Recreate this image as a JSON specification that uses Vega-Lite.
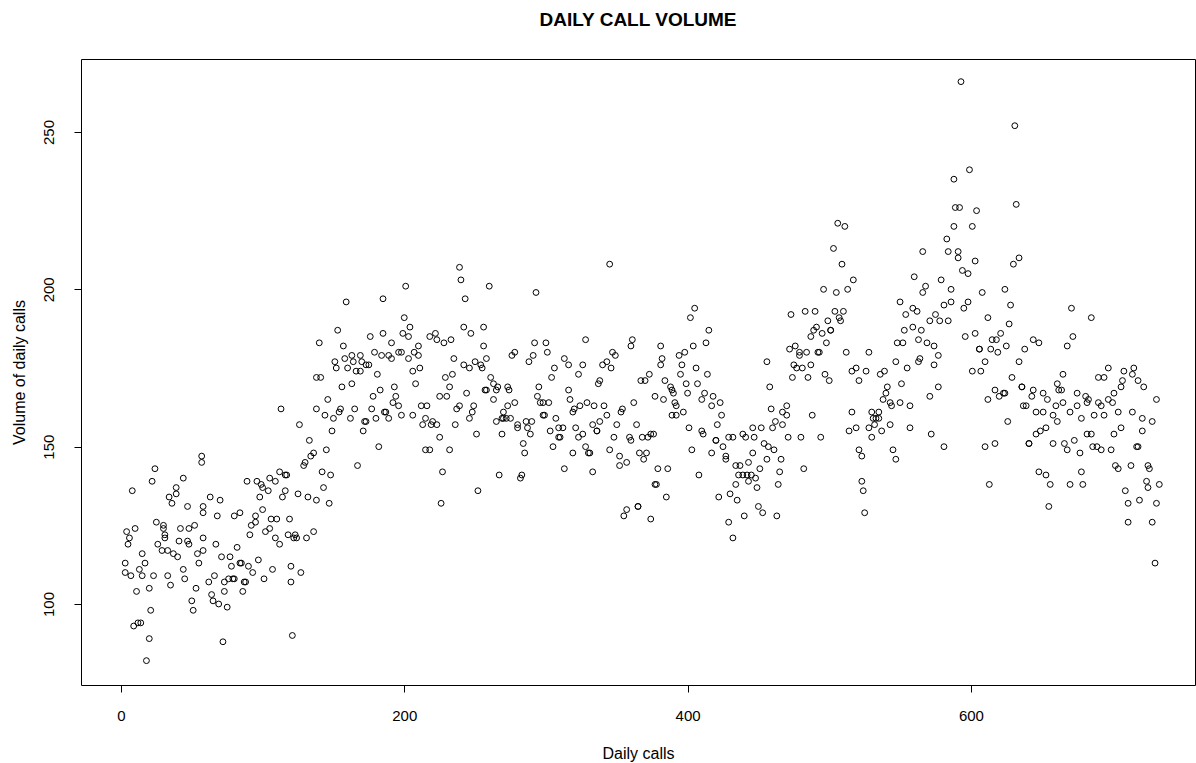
{
"$schema": "https://vega.github.io/schema/vega-lite/v6.json",
"width": 1114, "height": 626,
"autosize": {"type": "none"},
"padding": {"left": 81, "top": 59, "right": 1, "bottom": 78},
"background": "white",
"title": {"text": "DAILY CALL VOLUME", "font": "Liberation Sans", "fontSize": 19, "fontWeight": "bold", "color": "black", "anchor": "middle", "offset": 29},
"config": {"view": {"stroke": "black", "strokeWidth": 1}},
"data": {"values": [
{"d":57,"v":147},{"d":57,"v":145},{"d":24,"v":143},{"d":22,"v":139},{"d":8,"v":136},{"d":44,"v":140},{"d":39,"v":137},{"d":39,"v":135},{"d":34,"v":134},{"d":36,"v":132},{"d":47,"v":131},{"d":58,"v":131},{"d":58,"v":129},{"d":25,"v":126},{"d":30,"v":125},{"d":30,"v":124},{"d":31,"v":122},{"d":31,"v":121},{"d":42,"v":124},{"d":48,"v":124},{"d":52,"v":125},{"d":4,"v":123},{"d":10,"v":124},{"d":6,"v":121},{"d":5,"v":119},{"d":26,"v":119},{"d":41,"v":120},{"d":47,"v":120},{"d":48,"v":119},{"d":58,"v":121},{"d":29,"v":117},{"d":33,"v":117},{"d":37,"v":116},{"d":40,"v":115},{"d":15,"v":116},{"d":17,"v":113},{"d":3,"v":113},{"d":54,"v":116},{"d":55,"v":113},{"d":58,"v":117},{"d":3,"v":110},{"d":7,"v":109},{"d":13,"v":111},{"d":15,"v":109},{"d":23,"v":109},{"d":33,"v":109},{"d":35,"v":106},{"d":44,"v":111},{"d":45,"v":108},{"d":11,"v":104},{"d":20,"v":105},{"d":53,"v":105},{"d":50,"v":101},{"d":51,"v":98},{"d":21,"v":98},{"d":9,"v":93},{"d":12,"v":94},{"d":14,"v":94},{"d":20,"v":89},{"d":18,"v":82},
{"d":113,"v":162},{"d":112,"v":142},{"d":116,"v":141},{"d":117,"v":141},{"d":89,"v":139},{"d":96,"v":139},{"d":99,"v":138},{"d":100,"v":137},{"d":105,"v":140},{"d":109,"v":139},{"d":104,"v":136},{"d":98,"v":134},{"d":116,"v":136},{"d":114,"v":134},{"d":63,"v":134},{"d":70,"v":133},{"d":68,"v":128},{"d":80,"v":128},{"d":84,"v":129},{"d":100,"v":130},{"d":95,"v":128},{"d":95,"v":126},{"d":92,"v":125},{"d":91,"v":122},{"d":106,"v":127},{"d":110,"v":127},{"d":119,"v":127},{"d":105,"v":124},{"d":102,"v":123},{"d":109,"v":121},{"d":112,"v":119},{"d":118,"v":122},{"d":122,"v":121},{"d":67,"v":119},{"d":71,"v":115},{"d":77,"v":115},{"d":82,"v":118},{"d":78,"v":112},{"d":84,"v":113},{"d":85,"v":113},{"d":90,"v":112},{"d":97,"v":114},{"d":93,"v":110},{"d":107,"v":111},{"d":101,"v":108},{"d":120,"v":112},{"d":120,"v":107},{"d":66,"v":109},{"d":62,"v":107},{"d":73,"v":107},{"d":76,"v":108},{"d":79,"v":108},{"d":80,"v":108},{"d":88,"v":107},{"d":87,"v":107},{"d":64,"v":103},{"d":65,"v":101},{"d":69,"v":100},{"d":75,"v":99},{"d":73,"v":104},{"d":86,"v":104},{"d":72,"v":88},{"d":121,"v":90},
{"d":159,"v":196},{"d":185,"v":197},{"d":153,"v":187},{"d":140,"v":183},{"d":176,"v":185},{"d":185,"v":186},{"d":157,"v":182},{"d":151,"v":177},{"d":152,"v":175},{"d":158,"v":178},{"d":163,"v":179},{"d":164,"v":177},{"d":169,"v":179},{"d":170,"v":177},{"d":160,"v":175},{"d":166,"v":174},{"d":169,"v":174},{"d":175,"v":176},{"d":173,"v":176},{"d":179,"v":180},{"d":184,"v":179},{"d":181,"v":173},{"d":138,"v":172},{"d":141,"v":172},{"d":163,"v":170},{"d":156,"v":169},{"d":183,"v":168},{"d":178,"v":166},{"d":146,"v":165},{"d":138,"v":162},{"d":144,"v":160},{"d":150,"v":159},{"d":155,"v":162},{"d":154,"v":161},{"d":162,"v":159},{"d":165,"v":162},{"d":177,"v":162},{"d":180,"v":159},{"d":172,"v":158},{"d":173,"v":158},{"d":171,"v":155},{"d":186,"v":161},{"d":126,"v":157},{"d":149,"v":155},{"d":182,"v":150},{"d":133,"v":152},{"d":136,"v":148},{"d":134,"v":147},{"d":130,"v":145},{"d":129,"v":144},{"d":145,"v":149},{"d":167,"v":144},{"d":142,"v":142},{"d":148,"v":141},{"d":143,"v":137},{"d":125,"v":135},{"d":132,"v":134},{"d":138,"v":133},{"d":147,"v":132},{"d":123,"v":122},{"d":124,"v":121},{"d":131,"v":121},{"d":136,"v":123},{"d":127,"v":110},
{"d":239,"v":207},{"d":240,"v":203},{"d":243,"v":197},{"d":201,"v":201},{"d":200,"v":191},{"d":204,"v":188},{"d":199,"v":186},{"d":203,"v":185},{"d":218,"v":185},{"d":222,"v":186},{"d":223,"v":184},{"d":228,"v":183},{"d":233,"v":184},{"d":242,"v":188},{"d":247,"v":186},{"d":191,"v":183},{"d":189,"v":179},{"d":191,"v":178},{"d":196,"v":180},{"d":198,"v":180},{"d":203,"v":178},{"d":207,"v":180},{"d":210,"v":179},{"d":210,"v":182},{"d":235,"v":178},{"d":242,"v":176},{"d":246,"v":175},{"d":250,"v":177},{"d":206,"v":174},{"d":211,"v":175},{"d":229,"v":172},{"d":234,"v":173},{"d":208,"v":170},{"d":232,"v":169},{"d":225,"v":166},{"d":230,"v":166},{"d":244,"v":167},{"d":193,"v":169},{"d":194,"v":166},{"d":192,"v":164},{"d":196,"v":163},{"d":187,"v":161},{"d":189,"v":159},{"d":212,"v":163},{"d":216,"v":163},{"d":198,"v":160},{"d":206,"v":160},{"d":239,"v":163},{"d":237,"v":162},{"d":249,"v":163},{"d":248,"v":161},{"d":246,"v":159},{"d":215,"v":159},{"d":213,"v":157},{"d":220,"v":158},{"d":219,"v":157},{"d":223,"v":157},{"d":236,"v":157},{"d":225,"v":153},{"d":215,"v":149},{"d":218,"v":149},{"d":232,"v":149},{"d":227,"v":142},{"d":226,"v":132},
{"d":260,"v":201},{"d":293,"v":199},{"d":256,"v":188},{"d":256,"v":182},{"d":258,"v":178},{"d":254,"v":176},{"d":255,"v":175},{"d":278,"v":180},{"d":276,"v":179},{"d":288,"v":177},{"d":291,"v":179},{"d":292,"v":183},{"d":300,"v":183},{"d":301,"v":180},{"d":306,"v":175},{"d":304,"v":172},{"d":313,"v":178},{"d":261,"v":172},{"d":263,"v":170},{"d":266,"v":169},{"d":257,"v":168},{"d":258,"v":168},{"d":265,"v":168},{"d":263,"v":165},{"d":273,"v":169},{"d":274,"v":168},{"d":295,"v":169},{"d":294,"v":166},{"d":296,"v":164},{"d":298,"v":164},{"d":302,"v":164},{"d":278,"v":164},{"d":273,"v":163},{"d":270,"v":161},{"d":270,"v":159},{"d":265,"v":158},{"d":269,"v":159},{"d":272,"v":159},{"d":275,"v":159},{"d":280,"v":157},{"d":280,"v":156},{"d":286,"v":158},{"d":290,"v":158},{"d":287,"v":156},{"d":289,"v":154},{"d":299,"v":160},{"d":298,"v":160},{"d":307,"v":159},{"d":309,"v":156},{"d":303,"v":155},{"d":309,"v":153},{"d":310,"v":153},{"d":312,"v":156},{"d":251,"v":154},{"d":269,"v":154},{"d":284,"v":151},{"d":285,"v":148},{"d":305,"v":150},{"d":313,"v":143},{"d":267,"v":141},{"d":283,"v":141},{"d":282,"v":140},{"d":252,"v":136},
{"d":345,"v":208},{"d":328,"v":184},{"d":361,"v":184},{"d":360,"v":182},{"d":347,"v":180},{"d":349,"v":179},{"d":316,"v":176},{"d":326,"v":176},{"d":323,"v":173},{"d":343,"v":177},{"d":340,"v":176},{"d":346,"v":175},{"d":338,"v":171},{"d":337,"v":170},{"d":367,"v":171},{"d":370,"v":171},{"d":373,"v":173},{"d":316,"v":168},{"d":317,"v":165},{"d":319,"v":161},{"d":320,"v":162},{"d":324,"v":163},{"d":329,"v":164},{"d":334,"v":163},{"d":341,"v":163},{"d":354,"v":162},{"d":353,"v":161},{"d":362,"v":164},{"d":377,"v":166},{"d":343,"v":160},{"d":338,"v":158},{"d":333,"v":157},{"d":336,"v":155},{"d":336,"v":155},{"d":321,"v":156},{"d":323,"v":153},{"d":326,"v":154},{"d":350,"v":157},{"d":348,"v":153},{"d":364,"v":157},{"d":359,"v":153},{"d":360,"v":152},{"d":368,"v":153},{"d":372,"v":153},{"d":374,"v":154},{"d":328,"v":150},{"d":330,"v":148},{"d":331,"v":148},{"d":319,"v":148},{"d":345,"v":149},{"d":352,"v":147},{"d":352,"v":144},{"d":357,"v":145},{"d":366,"v":148},{"d":371,"v":148},{"d":369,"v":146},{"d":333,"v":142},{"d":357,"v":130},{"d":355,"v":128},{"d":365,"v":131},{"d":365,"v":131},{"d":374,"v":127},{"d":377,"v":138},
{"d":405,"v":194},{"d":402,"v":191},{"d":415,"v":187},{"d":413,"v":183},{"d":381,"v":182},{"d":382,"v":178},{"d":381,"v":176},{"d":394,"v":179},{"d":398,"v":180},{"d":404,"v":182},{"d":396,"v":176},{"d":395,"v":173},{"d":406,"v":175},{"d":414,"v":173},{"d":384,"v":171},{"d":388,"v":169},{"d":390,"v":167},{"d":389,"v":168},{"d":399,"v":170},{"d":407,"v":170},{"d":400,"v":167},{"d":412,"v":167},{"d":410,"v":165},{"d":418,"v":166},{"d":417,"v":163},{"d":423,"v":164},{"d":383,"v":165},{"d":391,"v":164},{"d":392,"v":163},{"d":389,"v":160},{"d":392,"v":160},{"d":397,"v":161},{"d":424,"v":160},{"d":421,"v":157},{"d":401,"v":156},{"d":410,"v":155},{"d":411,"v":154},{"d":376,"v":154},{"d":420,"v":152},{"d":420,"v":152},{"d":429,"v":153},{"d":432,"v":153},{"d":439,"v":154},{"d":425,"v":150},{"d":417,"v":148},{"d":403,"v":149},{"d":427,"v":147},{"d":427,"v":146},{"d":434,"v":144},{"d":437,"v":144},{"d":436,"v":141},{"d":439,"v":141},{"d":434,"v":138},{"d":430,"v":135},{"d":435,"v":133},{"d":379,"v":143},{"d":386,"v":143},{"d":378,"v":138},{"d":385,"v":134},{"d":408,"v":141},{"d":422,"v":134},{"d":440,"v":128},{"d":429,"v":126},{"d":432,"v":121},
{"d":503,"v":213},{"d":496,"v":200},{"d":473,"v":192},{"d":483,"v":193},{"d":490,"v":193},{"d":499,"v":190},{"d":501,"v":187},{"d":501,"v":187},{"d":495,"v":186},{"d":491,"v":188},{"d":489,"v":187},{"d":487,"v":185},{"d":498,"v":183},{"d":472,"v":181},{"d":476,"v":182},{"d":479,"v":180},{"d":479,"v":179},{"d":484,"v":180},{"d":492,"v":180},{"d":493,"v":180},{"d":475,"v":176},{"d":477,"v":175},{"d":481,"v":175},{"d":487,"v":176},{"d":474,"v":172},{"d":485,"v":172},{"d":497,"v":173},{"d":500,"v":171},{"d":456,"v":177},{"d":458,"v":169},{"d":459,"v":162},{"d":467,"v":161},{"d":470,"v":163},{"d":470,"v":160},{"d":488,"v":160},{"d":462,"v":158},{"d":467,"v":157},{"d":460,"v":156},{"d":446,"v":156},{"d":452,"v":156},{"d":441,"v":153},{"d":447,"v":153},{"d":471,"v":153},{"d":480,"v":153},{"d":494,"v":153},{"d":454,"v":151},{"d":457,"v":150},{"d":461,"v":149},{"d":446,"v":148},{"d":456,"v":146},{"d":466,"v":146},{"d":443,"v":145},{"d":451,"v":143},{"d":465,"v":142},{"d":482,"v":143},{"d":442,"v":141},{"d":445,"v":141},{"d":448,"v":140},{"d":443,"v":139},{"d":449,"v":137},{"d":464,"v":138},{"d":450,"v":131},{"d":453,"v":129},{"d":463,"v":128},
{"d":506,"v":221},{"d":511,"v":220},{"d":509,"v":208},{"d":517,"v":203},{"d":513,"v":200},{"d":505,"v":199},{"d":504,"v":193},{"d":510,"v":193},{"d":507,"v":191},{"d":508,"v":190},{"d":566,"v":212},{"d":560,"v":204},{"d":550,"v":196},{"d":554,"v":192},{"d":559,"v":194},{"d":562,"v":193},{"d":566,"v":199},{"d":553,"v":187},{"d":559,"v":188},{"d":565,"v":187},{"d":563,"v":184},{"d":548,"v":183},{"d":552,"v":183},{"d":547,"v":177},{"d":555,"v":175},{"d":564,"v":178},{"d":563,"v":177},{"d":512,"v":180},{"d":528,"v":180},{"d":519,"v":175},{"d":516,"v":174},{"d":521,"v":171},{"d":526,"v":174},{"d":536,"v":173},{"d":539,"v":174},{"d":551,"v":170},{"d":541,"v":169},{"d":540,"v":167},{"d":538,"v":165},{"d":543,"v":164},{"d":544,"v":163},{"d":550,"v":164},{"d":557,"v":163},{"d":516,"v":161},{"d":530,"v":161},{"d":535,"v":161},{"d":531,"v":159},{"d":533,"v":159},{"d":535,"v":159},{"d":532,"v":157},{"d":514,"v":155},{"d":519,"v":156},{"d":528,"v":156},{"d":530,"v":153},{"d":537,"v":155},{"d":543,"v":157},{"d":557,"v":156},{"d":521,"v":149},{"d":523,"v":147},{"d":545,"v":149},{"d":547,"v":146},{"d":523,"v":139},{"d":524,"v":136},{"d":525,"v":129},
{"d":593,"v":266},{"d":599,"v":238},{"d":588,"v":235},{"d":589,"v":226},{"d":592,"v":226},{"d":604,"v":225},{"d":588,"v":220},{"d":601,"v":220},{"d":583,"v":216},{"d":584,"v":212},{"d":591,"v":212},{"d":591,"v":210},{"d":603,"v":209},{"d":594,"v":206},{"d":598,"v":205},{"d":579,"v":203},{"d":568,"v":201},{"d":586,"v":200},{"d":608,"v":199},{"d":624,"v":200},{"d":581,"v":195},{"d":586,"v":196},{"d":595,"v":194},{"d":598,"v":196},{"d":628,"v":195},{"d":575,"v":192},{"d":571,"v":190},{"d":578,"v":190},{"d":584,"v":190},{"d":612,"v":191},{"d":627,"v":189},{"d":596,"v":185},{"d":603,"v":186},{"d":615,"v":184},{"d":618,"v":184},{"d":621,"v":186},{"d":625,"v":182},{"d":619,"v":180},{"d":606,"v":181},{"d":606,"v":181},{"d":614,"v":181},{"d":569,"v":183},{"d":574,"v":182},{"d":577,"v":179},{"d":574,"v":176},{"d":610,"v":177},{"d":601,"v":174},{"d":607,"v":174},{"d":629,"v":172},{"d":577,"v":169},{"d":571,"v":166},{"d":617,"v":168},{"d":620,"v":166},{"d":623,"v":167},{"d":624,"v":167},{"d":612,"v":165},{"d":626,"v":158},{"d":572,"v":154},{"d":581,"v":150},{"d":610,"v":150},{"d":617,"v":151},{"d":613,"v":138},
{"d":631,"v":252},{"d":632,"v":227},{"d":630,"v":208},{"d":634,"v":210},{"d":671,"v":194},{"d":685,"v":191},{"d":644,"v":184},{"d":648,"v":183},{"d":638,"v":181},{"d":634,"v":177},{"d":672,"v":185},{"d":668,"v":182},{"d":665,"v":173},{"d":661,"v":170},{"d":662,"v":168},{"d":664,"v":168},{"d":690,"v":172},{"d":694,"v":172},{"d":636,"v":169},{"d":636,"v":169},{"d":644,"v":168},{"d":643,"v":166},{"d":651,"v":167},{"d":654,"v":165},{"d":660,"v":163},{"d":665,"v":164},{"d":675,"v":167},{"d":681,"v":166},{"d":683,"v":165},{"d":682,"v":164},{"d":690,"v":164},{"d":692,"v":163},{"d":694,"v":160},{"d":637,"v":163},{"d":639,"v":163},{"d":646,"v":161},{"d":651,"v":161},{"d":670,"v":161},{"d":675,"v":163},{"d":658,"v":160},{"d":661,"v":158},{"d":678,"v":159},{"d":687,"v":160},{"d":646,"v":154},{"d":649,"v":155},{"d":653,"v":156},{"d":641,"v":151},{"d":641,"v":151},{"d":658,"v":151},{"d":666,"v":151},{"d":668,"v":149},{"d":673,"v":152},{"d":677,"v":148},{"d":682,"v":154},{"d":685,"v":154},{"d":686,"v":150},{"d":689,"v":150},{"d":692,"v":149},{"d":648,"v":142},{"d":653,"v":141},{"d":656,"v":138},{"d":670,"v":138},{"d":678,"v":142},{"d":679,"v":138},{"d":655,"v":131},
{"d":697,"v":175},{"d":708,"v":174},{"d":715,"v":175},{"d":714,"v":173},{"d":707,"v":171},{"d":718,"v":171},{"d":722,"v":169},{"d":706,"v":169},{"d":701,"v":167},{"d":697,"v":165},{"d":700,"v":164},{"d":731,"v":165},{"d":704,"v":161},{"d":714,"v":161},{"d":721,"v":159},{"d":728,"v":158},{"d":706,"v":156},{"d":701,"v":154},{"d":721,"v":155},{"d":699,"v":149},{"d":717,"v":150},{"d":718,"v":150},{"d":702,"v":144},{"d":704,"v":143},{"d":713,"v":144},{"d":725,"v":144},{"d":726,"v":143},{"d":724,"v":139},{"d":725,"v":137},{"d":733,"v":138},{"d":709,"v":136},{"d":711,"v":132},{"d":719,"v":133},{"d":731,"v":132},{"d":711,"v":126},{"d":728,"v":126},{"d":730,"v":113}
]},
"mark": {"type": "point", "shape": "circle", "filled": false, "stroke": "black", "strokeWidth": 1, "size": 34, "opacity": 1},
"encoding": {
"x": {"field": "d", "type": "quantitative",
 "scale": {"domain": [-28.2, 758.2], "nice": false, "zero": false},
 "axis": {"values": [0, 200, 400, 600], "title": "Daily calls", "grid": false, "domain": false, "ticks": true, "tickColor": "black", "tickSize": 7, "labelPadding": 16, "labelFont": "Liberation Sans", "labelFontSize": 15, "labelColor": "black", "titleFont": "Liberation Sans", "titleFontSize": 16, "titleFontWeight": "normal", "titleColor": "black", "titlePadding": 22}},
"y": {"field": "v", "type": "quantitative",
 "scale": {"domain": [74.26, 273.2], "nice": false, "zero": false},
 "axis": {"values": [100, 150, 200, 250], "title": "Volume of daily calls", "grid": false, "domain": false, "ticks": true, "tickColor": "black", "tickSize": 7, "labelAngle": -90, "labelAlign": "center", "labelBaseline": "bottom", "labelPadding": 18, "labelFont": "Liberation Sans", "labelFontSize": 15, "labelColor": "black", "titleFont": "Liberation Sans", "titleFontSize": 16, "titleFontWeight": "normal", "titleColor": "black", "titlePadding": 14}}
}
}
